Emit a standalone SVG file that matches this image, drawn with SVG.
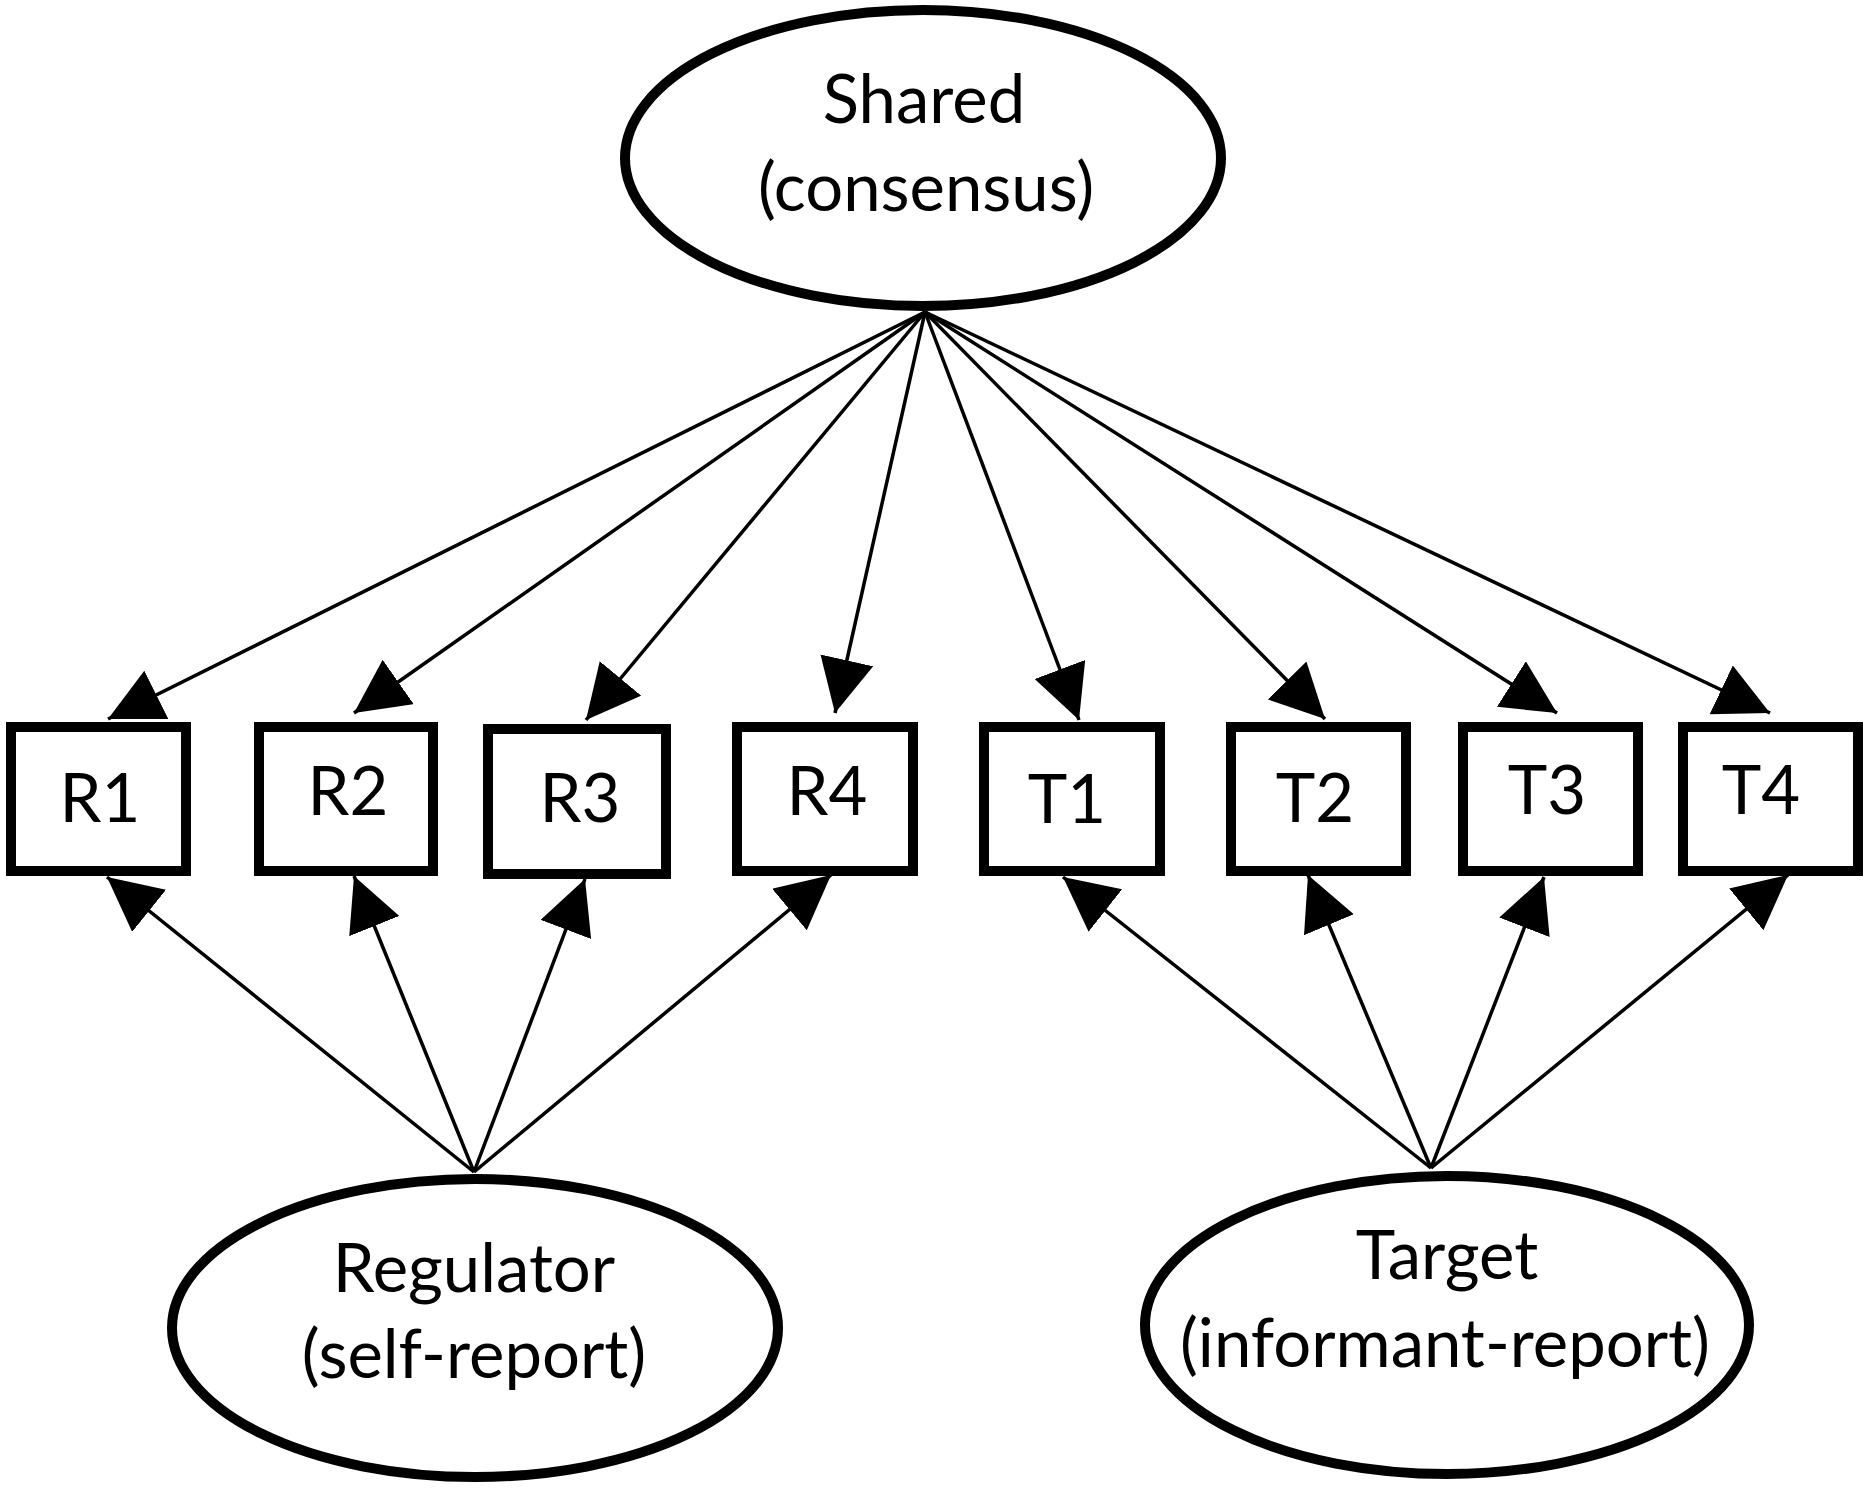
<svg xmlns="http://www.w3.org/2000/svg" width="1870" height="1490" viewBox="0 0 1870 1490">
<style>
.ell{fill:#fff;stroke:#000;stroke-width:10}
.box{fill:#fff;stroke:#000;stroke-width:10}
.lbl{font-family:Lato,"Liberation Sans",sans-serif;font-size:67px;fill:#000;text-anchor:middle}
.edge{stroke:#000;stroke-width:3.5;fill:none;marker-end:url(#ah)}
</style>
<defs>
<marker id="ah" markerUnits="userSpaceOnUse" markerWidth="56" markerHeight="56" refX="54" refY="27" orient="auto">
<path d="M0,0 L54,27 L0,54 z" fill="#000"/>
</marker>
</defs>
<rect width="1870" height="1490" fill="#fff"/>
<g id="connectors">
<line class="edge" x1="925" y1="312" x2="108" y2="719"/>
<line class="edge" x1="925" y1="312" x2="354" y2="713"/>
<line class="edge" x1="925" y1="312" x2="586" y2="720"/>
<line class="edge" x1="925" y1="312" x2="835" y2="713"/>
<line class="edge" x1="925" y1="312" x2="1079" y2="720"/>
<line class="edge" x1="925" y1="312" x2="1325" y2="719"/>
<line class="edge" x1="925" y1="312" x2="1557" y2="713"/>
<line class="edge" x1="925" y1="312" x2="1770" y2="713"/>
<line class="edge" x1="474" y1="1172" x2="107" y2="877"/>
<line class="edge" x1="474" y1="1172" x2="354" y2="876"/>
<line class="edge" x1="474" y1="1172" x2="585" y2="879"/>
<line class="edge" x1="474" y1="1172" x2="831" y2="875"/>
<line class="edge" x1="1431" y1="1168" x2="1063" y2="877"/>
<line class="edge" x1="1431" y1="1168" x2="1308" y2="875"/>
<line class="edge" x1="1431" y1="1168" x2="1544" y2="877"/>
<line class="edge" x1="1431" y1="1168" x2="1788" y2="875"/>
</g>
<g id="shared">
<ellipse class="ell" cx="923" cy="158" rx="298" ry="148"/>
<text class="lbl" x="924" y="123">Shared</text>
<text class="lbl" x="926" y="211">(consensus)</text>
</g>
<g id="regulator">
<ellipse class="ell" cx="475" cy="1328" rx="303" ry="149"/>
<text class="lbl" x="474" y="1292">Regulator</text>
<text class="lbl" x="474" y="1378">(self-report)</text>
</g>
<g id="target">
<ellipse class="ell" cx="1447" cy="1325" rx="302" ry="149"/>
<text class="lbl" x="1447" y="1279">Target</text>
<text class="lbl" x="1445" y="1367">(informant-report)</text>
</g>
<g id="R1"><rect class="box" x="11" y="727" width="175" height="144"/><text class="lbl" x="100" y="822">R1</text></g>
<g id="R2"><rect class="box" x="259" y="727" width="174" height="144"/><text class="lbl" x="348" y="815">R2</text></g>
<g id="R3"><rect class="box" x="488" y="729" width="178" height="145"/><text class="lbl" x="580" y="822">R3</text></g>
<g id="R4"><rect class="box" x="737" y="727" width="176" height="144"/><text class="lbl" x="827" y="815">R4</text></g>
<g id="T1"><rect class="box" x="984" y="727" width="176" height="144"/><text class="lbl" x="1067" y="823">T1</text></g>
<g id="T2"><rect class="box" x="1231" y="727" width="175" height="144"/><text class="lbl" x="1315" y="822">T2</text></g>
<g id="T3"><rect class="box" x="1463" y="727" width="175" height="144"/><text class="lbl" x="1547" y="814">T3</text></g>
<g id="T4"><rect class="box" x="1683" y="727" width="175" height="144"/><text class="lbl" x="1761" y="814">T4</text></g>
</svg>
